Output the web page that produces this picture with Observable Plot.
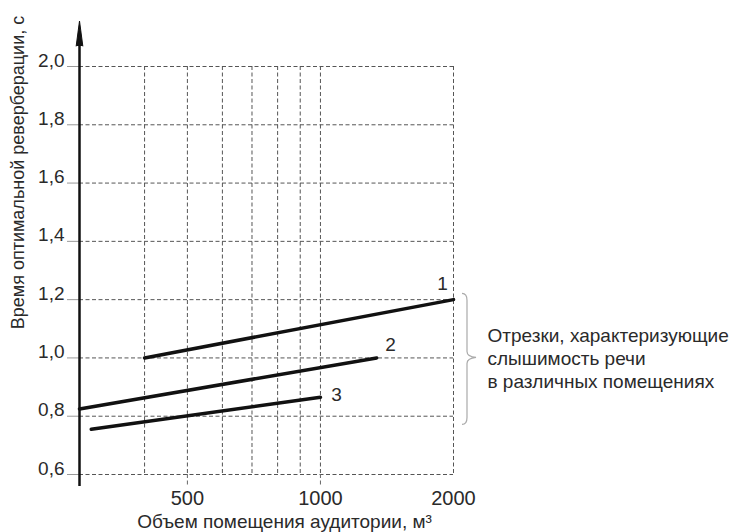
<!DOCTYPE html>
<html><head><meta charset="utf-8">
<script src="https://cdn.jsdelivr.net/npm/d3@7"></script>
<script src="https://cdn.jsdelivr.net/npm/@observablehq/plot@0.6"></script>
<style>body{margin:0;background:#fff;overflow:hidden}</style>
</head><body><div id="chart"></div>
<script>
// ---- data ----
const xDomain = [285, 2000];
const yDomain = [0.6, 2.0];
const yTicks = [0.6, 0.8, 1.0, 1.2, 1.4, 1.6, 1.8, 2.0];
const xGrid = [400, 500, 600, 700, 800, 900, 1000, 2000];
const xLabelTicks = [500, 1000, 2000];
const xTickMarks = [500, 1000];
const seriesNames = ["1", "2", "3"];
const seriesX = [[400, 2000], [285, 1340], [303, 1000]];
const seriesY = [[1.0, 1.2], [0.825, 1.0], [0.755, 0.865]];
const braceSpan = [1.22, 0.77, 1.0];
const yTitle = "Время оптимальной реверберации, с";
const xTitle = "Объем помещения аудитории, м³";
const note = "Отрезки, характеризующие\nслышимость речи\nв различных помещениях";

// ---- styling ----
const FONT = "Liberation Sans, Arial, sans-serif";
const labelOffsets = [[-11, -16], [14, -13], [16, -2]];
const gridStyle = {stroke: "#555", strokeOpacity: 1, strokeWidth: 1, strokeDasharray: "4,2.5"};

const rows = seriesNames.flatMap((name, i) =>
  seriesX[i].map((x, j) => ({name, x, y: seriesY[i][j]})));
const ends = seriesNames.map((name, i) => ({name, x: seriesX[i][seriesX[i].length - 1], y: seriesY[i][seriesY[i].length - 1]}));

function brace(index, scales) {
  const {x, y} = scales;
  const x0 = x(xDomain[1]) + 9;
  const top = y(braceSpan[0]), bot = y(braceSpan[1]), tip = y(braceSpan[2]);
  const p = d3.path();
  p.moveTo(x0, top);
  p.quadraticCurveTo(x0 + 5, top, x0 + 5, top + 7);
  p.lineTo(x0 + 5, tip - 6);
  p.quadraticCurveTo(x0 + 5, tip - 1, x0 + 14, tip);
  p.quadraticCurveTo(x0 + 5, tip + 1, x0 + 5, tip + 6);
  p.lineTo(x0 + 5, bot - 7);
  p.quadraticCurveTo(x0 + 5, bot, x0, bot);
  const path = document.createElementNS("http://www.w3.org/2000/svg", "path");
  path.setAttribute("d", p.toString());
  path.setAttribute("fill", "none");
  path.setAttribute("stroke", "#aaa");
  path.setAttribute("stroke-width", "1.2");
  return path;
}

const chart = Plot.plot({
  width: 731,
  height: 532,
  marginLeft: 79,
  marginRight: 278,
  marginTop: 66,
  marginBottom: 58,
  style: {fontFamily: FONT, background: "white", overflow: "visible"},
  x: {type: "log", domain: xDomain},
  y: {domain: yDomain},
  marks: [
    Plot.gridY(yTicks, gridStyle),
    Plot.gridX(xGrid, gridStyle),
    Plot.axisX({ticks: xTickMarks, tickSize: 11, tickFormat: () => "", stroke: "#666", strokeDasharray: "4,2.5", label: null}),
    Plot.axisX({ticks: xLabelTicks, tickSize: 0, tickPadding: 16, fontSize: 20, fill: "#2a2a2a", label: null, tickFormat: d => String(d)}),
    Plot.axisY({ticks: yTicks, tickSize: 12, tickPadding: 3, stroke: "#999", label: null, tickFormat: () => ""}),
    Plot.axisY({ticks: yTicks, tickSize: 12, tickPadding: 3, stroke: "none", fontSize: 19, fill: "#2a2a2a", label: null, dy: -6,
      tickFormat: d => d.toFixed(1).replace(".", ",")}),
    Plot.ruleX([xDomain[0]], {insetTop: -35, insetBottom: -12, stroke: "#111", strokeWidth: 2.5}),
    Plot.vector([0], {frameAnchor: "top-left", dy: -33, length: 25, r: 3.3, shape: "spike", rotate: 0, fill: "#111", stroke: "#111", strokeWidth: 1}),
    Plot.line(rows, {x: "x", y: "y", z: "name", stroke: "#111", strokeWidth: 3.5}),
    ...ends.map((d, i) => Plot.text([d], {x: "x", y: "y", text: "name", dx: labelOffsets[i][0], dy: labelOffsets[i][1], fontSize: 19, fill: "#2a2a2a"})),
    brace,
    Plot.text([note], {x: () => xDomain[1], y: () => braceSpan[2], dx: 34, textAnchor: "start", lineAnchor: "middle", lineHeight: 1.2, fontSize: 19, fill: "#2a2a2a"}),
    Plot.text([xTitle], {frameAnchor: "bottom", dx: 18, dy: 47, textAnchor: "middle", lineAnchor: "middle", fontSize: 19, fill: "#2a2a2a"}),
    Plot.text([yTitle], {frameAnchor: "left", rotate: -90, dx: -61, dy: -98, textAnchor: "middle", lineAnchor: "middle", fontSize: 18, fill: "#2a2a2a"})
  ]
});
document.getElementById("chart").appendChild(chart);
</script>
</body></html>
